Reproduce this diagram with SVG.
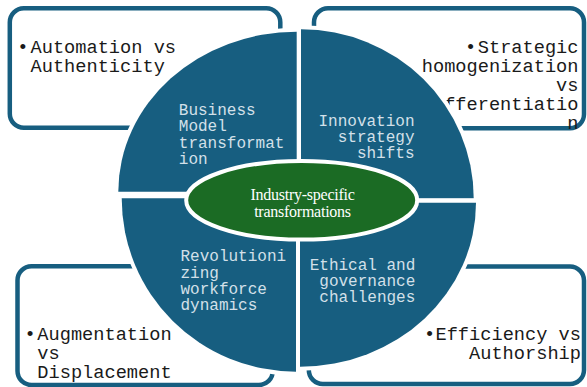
<svg xmlns="http://www.w3.org/2000/svg" width="587" height="387" viewBox="0 0 587 387">
<style>
.box{fill:#ffffff;stroke:#175e80;stroke-width:4.5}
.btxt{font-family:"Liberation Mono","Courier New",monospace;font-size:18.67px;fill:#1a1a1a}
.quad{fill:#175e80;stroke:#ffffff;stroke-width:8;paint-order:stroke fill}
.qtxt{font-family:"Liberation Mono","Courier New",monospace;font-size:16px;fill:#d3e0e9}
.ctr{fill:#1b6b24;stroke:#ffffff;stroke-width:4}
.ctxt{font-family:"Liberation Serif","Times New Roman",serif;font-size:16px;fill:#ffffff;letter-spacing:-0.25px}
.end{text-anchor:end}
.mid{text-anchor:middle}
</style>
<rect width="587" height="387" fill="#ffffff"/>
<g id="box-automation">
<rect class="box" x="9.8" y="8.3" width="270.5" height="119.5" rx="14"/>
<text class="btxt mid" x="22.8" y="53.3">•</text>
<text class="btxt" x="30.5" y="53.3">Automation vs</text>
<text class="btxt" x="30.5" y="72.3">Authenticity</text>
</g>
<g id="box-strategic">
<rect class="box" x="314" y="8.3" width="270" height="120" rx="14"/>
<text class="btxt mid" x="470.5" y="53.3">•</text>
<text class="btxt end" x="578.5" y="53.3">Strategic</text>
<text class="btxt end" x="578.5" y="72.3">homogenization</text>
<text class="btxt end" x="578.5" y="91">vs</text>
<text class="btxt end" x="578.5" y="110">differentiatio</text>
<text class="btxt end" x="578.5" y="128.5">n</text>
</g>
<g id="box-augmentation">
<rect class="box" x="17.5" y="266.2" width="255.3" height="118.8" rx="14"/>
<text class="btxt mid" x="30" y="340.3">•</text>
<text class="btxt" x="37.3" y="340.3">Augmentation</text>
<text class="btxt" x="37.3" y="359.3">vs</text>
<text class="btxt" x="37.3" y="378">Displacement</text>
</g>
<g id="box-efficiency">
<rect class="box" x="308.8" y="266.5" width="275.2" height="117.5" rx="14"/>
<text class="btxt mid" x="429.7" y="339.7">•</text>
<text class="btxt end" x="581" y="339.7">Efficiency vs</text>
<text class="btxt end" x="581" y="358.7">Authorship</text>
</g>
<g id="connectors"></g>
<g id="quad-business">
<path class="quad" d="M296.7 191.7 L118.3 191.7 A178.4 160 0 0 1 296.7 31.7 Z"/>
<text class="qtxt" x="178.8" y="114.7">Business</text>
<text class="qtxt" x="178.8" y="131.2">Model</text>
<text class="qtxt" x="178.8" y="147.6">transformat</text>
<text class="qtxt" x="178.8" y="163.8">ion</text>
</g>
<g id="quad-innovation">
<path class="quad" d="M301 198.3 L301 29.3 A172.7 169 0 0 1 473.7 198.3 Z"/>
<text class="qtxt end" x="414.5" y="126">Innovation</text>
<text class="qtxt end" x="414.5" y="142.2">strategy</text>
<text class="qtxt end" x="414.5" y="158.3">shifts</text>
</g>
<g id="quad-workforce">
<path class="quad" d="M296 198.3 L296 371.7 A174.3 173.4 0 0 1 121.7 198.3 Z"/>
<text class="qtxt" x="180.5" y="261">Revolutioni</text>
<text class="qtxt" x="180.5" y="277.5">zing</text>
<text class="qtxt" x="180.5" y="293.7">workforce</text>
<text class="qtxt" x="180.5" y="309.7">dynamics</text>
</g>
<g id="quad-ethical">
<path class="quad" d="M300 202.7 L476 202.7 A176 164 0 0 1 300 366.7 Z"/>
<text class="qtxt end" x="415.3" y="269.7">Ethical and</text>
<text class="qtxt end" x="415.3" y="286.3">governance</text>
<text class="qtxt end" x="415.3" y="302">challenges</text>
</g>
<g id="center">
<ellipse class="ctr" cx="301.7" cy="200.3" rx="115.5" ry="39.3"/>
<text class="ctxt mid" x="302.5" y="200">Industry-specific</text>
<text class="ctxt mid" x="302.5" y="217">transformations</text>
</g>
</svg>
